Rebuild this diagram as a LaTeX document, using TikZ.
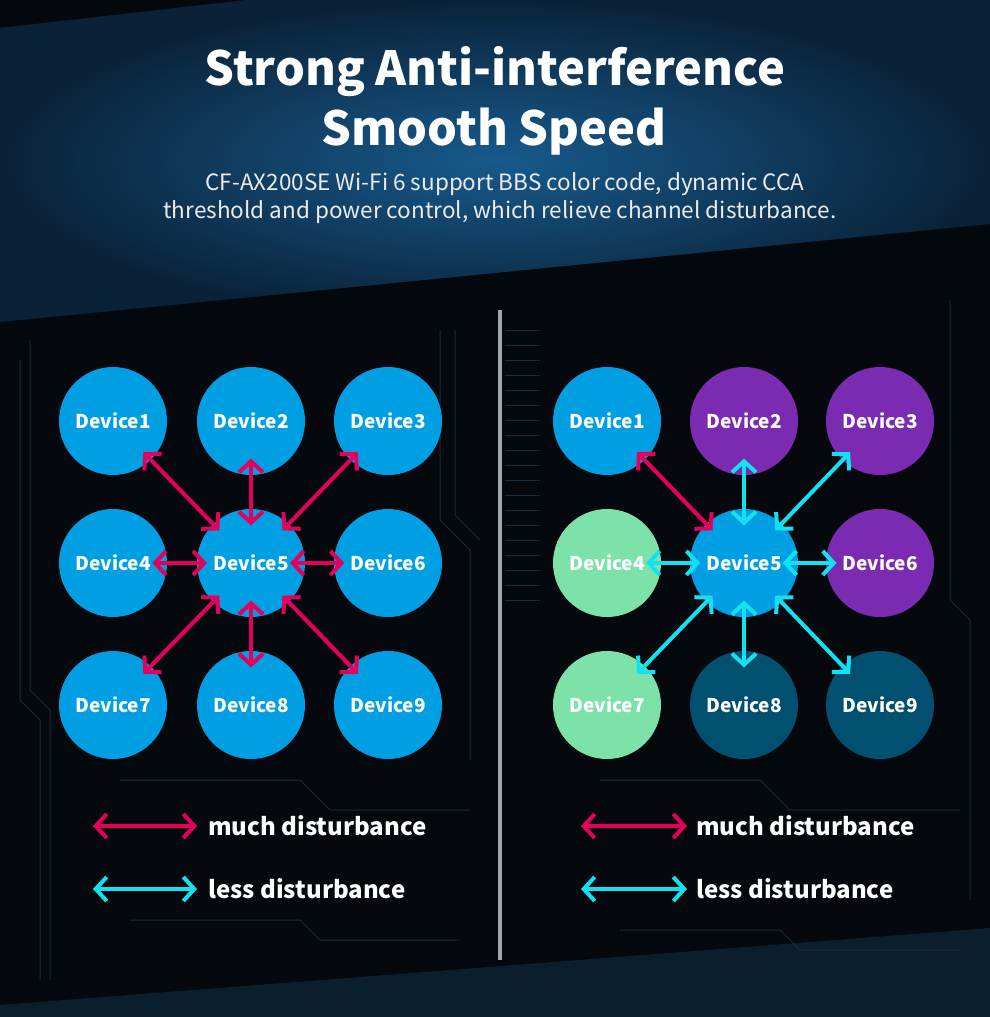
\documentclass[tikz,border=0pt]{standalone}
\usepackage{fontspec}
\newfontfamily\hfont{Noto Sans CJK SC}
\usetikzlibrary{arrows.meta,calc}
\definecolor{bgdark}{HTML}{05090E}
\definecolor{bandin}{HTML}{175A8C}
\definecolor{bandout}{HTML}{0A2238}
\definecolor{botband}{HTML}{0A1E2D}
\definecolor{devblue}{HTML}{009FE3}
\definecolor{devpurple}{HTML}{7A2BB2}
\definecolor{devmint}{HTML}{7DE2A9}
\definecolor{devteal}{HTML}{01506F}
\definecolor{pinkc}{HTML}{E6005C}
\definecolor{cyanc}{HTML}{12E2F0}
\definecolor{divgray}{HTML}{A3A6AA}
\definecolor{trace}{HTML}{1A2A38}
\definecolor{subtxt}{HTML}{EBEBEB}
\tikzset{
  dev/.style={circle, minimum size=108pt, inner sep=0pt, text=white,
    font=\hfont\bfseries\fontsize{19}{19}\selectfont},
  tipx/.tip={Straight Barb[length=11pt,width=24pt]},
  much/.style={draw=pinkc, line width=4pt, {tipx}-{tipx}},
  less/.style={draw=cyanc, line width=4pt, {tipx}-{tipx}},
  legtext/.style={text=white, anchor=west, inner sep=0pt,
    font=\hfont\bfseries\fontsize{24}{24}\selectfont},
  titletext/.style={text=white, anchor=base, inner sep=0pt,
    font=\hfont\bfseries\fontsize{47}{47}\selectfont},
  subtext/.style={text=subtxt, anchor=base, inner sep=0pt,
    font=\hfont\fontsize{22.5}{22.5}\selectfont},
  divider/.style={draw=divgray, line width=3.5pt},
  tr/.style={draw=trace, line width=1pt},
}
\begin{document}
\begin{tikzpicture}[x=1pt,y=-1pt]
\useasboundingbox (0,0) rectangle (990,1017);
\fill[bgdark] (0,0) rectangle (990,1017);
% upper blue band
\shade[inner color=bandin, outer color=bandout]
  (0,28) -- (246,0) -- (990,0) -- (990,224) -- (0,322) -- cycle;
% bottom band
\fill[botband] (0,1017) -- (0,1005) -- (990,928) -- (990,1017) -- cycle;
% faint circuit traces
\foreach \yy in {330,345,360,375,390,405,420,435,450,465,480,495,510,525,540,555,570,585,600} {
  \draw[tr] (505,\yy) -- (540,\yy);
}
\draw[tr] (20,360) -- (20,700) -- (40,720) -- (40,980);
\draw[tr] (30,340) -- (30,690) -- (50,710) -- (50,980);
\draw[tr] (440,330) -- (440,520) -- (470,550) -- (470,760);
\draw[tr] (455,330) -- (455,515) -- (480,540);
\draw[tr] (950,300) -- (950,600) -- (970,620) -- (970,900);
\draw[tr] (120,780) -- (300,780) -- (330,810) -- (470,810);
\draw[tr] (600,780) -- (760,780) -- (790,810) -- (960,810);
\draw[tr] (130,920) -- (300,920) -- (320,940) -- (460,940);
\draw[tr] (620,930) -- (780,930) -- (800,950) -- (960,950);
% title
\node[titletext] (t1) at (495,85) {Strong Anti-interference};
\node[titletext] (t2) at (494,145) {Smooth Speed};
\node[subtext] (s1) at (505,190) {CF-AX200SE Wi-Fi 6 support BBS color code, dynamic CCA};
\node[subtext] (s2) at (500,218) {threshold and power control, which relieve channel disturbance.};
% divider
\coordinate (dtop) at (500,310);
\coordinate (dbot) at (500,960);
\draw[divider] (dtop) -- (dbot);
% left grid
\node[dev, fill=devblue] (L1) at (113,421) {Device1};
\node[dev, fill=devblue] (L2) at (251,421) {Device2};
\node[dev, fill=devblue] (L3) at (388,421) {Device3};
\node[dev, fill=devblue] (L4) at (113,563) {Device4};
\node[dev, fill=devblue] (L5) at (251,563) {Device5};
\node[dev, fill=devblue] (L6) at (388,563) {Device6};
\node[dev, fill=devblue] (L7) at (113,705) {Device7};
\node[dev, fill=devblue] (L8) at (251,705) {Device8};
\node[dev, fill=devblue] (L9) at (388,705) {Device9};
\foreach \n in {L1,L3,L7,L9} {
  \draw[much] ($(\n)!0.22!(L5)$) -- ($(L5)!0.23!(\n)$);
}
\foreach \n in {L2,L8} {
  \draw[much] ($(\n)!0.265!(L5)$) -- ($(L5)!0.265!(\n)$);
}
\draw[much] ($(L4)!0.285!(L5)$) -- ($(L5)!0.32!(L4)$);
\draw[much] ($(L5)!0.285!(L6)$) -- ($(L6)!0.32!(L5)$);
% right grid
\node[dev, fill=devblue] (R1) at (607,421) {Device1};
\node[dev, fill=devpurple] (R2) at (744,421) {Device2};
\node[dev, fill=devpurple] (R3) at (880,421) {Device3};
\node[dev, fill=devmint] (R4) at (607,563) {Device4};
\node[dev, fill=devblue] (R5) at (744,563) {Device5};
\node[dev, fill=devpurple] (R6) at (880,563) {Device6};
\node[dev, fill=devmint] (R7) at (607,705) {Device7};
\node[dev, fill=devteal] (R8) at (744,705) {Device8};
\node[dev, fill=devteal] (R9) at (880,705) {Device9};
\draw[much] ($(R1)!0.22!(R5)$) -- ($(R5)!0.23!(R1)$);
\foreach \n in {R3,R7,R9} {
  \draw[less] ($(\n)!0.22!(R5)$) -- ($(R5)!0.23!(\n)$);
}
\foreach \n in {R2,R8} {
  \draw[less] ($(\n)!0.265!(R5)$) -- ($(R5)!0.265!(\n)$);
}
\draw[less] ($(R4)!0.285!(R5)$) -- ($(R5)!0.32!(R4)$);
\draw[less] ($(R5)!0.285!(R6)$) -- ($(R6)!0.32!(R5)$);
% legends
\coordinate (la1) at (93,826);  \coordinate (la2) at (197,826);
\coordinate (lb1) at (93,889);  \coordinate (lb2) at (197,889);
\coordinate (ra1) at (581,826); \coordinate (ra2) at (687,826);
\coordinate (rb1) at (581,889); \coordinate (rb2) at (687,889);
\draw[much] (la1) -- (la2);
\draw[less] (lb1) -- (lb2);
\draw[much] (ra1) -- (ra2);
\draw[less] (rb1) -- (rb2);
\node[legtext] (lt1) at (208,826) {much disturbance};
\node[legtext] (lt2) at (208,889) {less disturbance};
\node[legtext] (rt1) at (696,826) {much disturbance};
\node[legtext] (rt2) at (696,889) {less disturbance};
\end{tikzpicture}
\end{document}
